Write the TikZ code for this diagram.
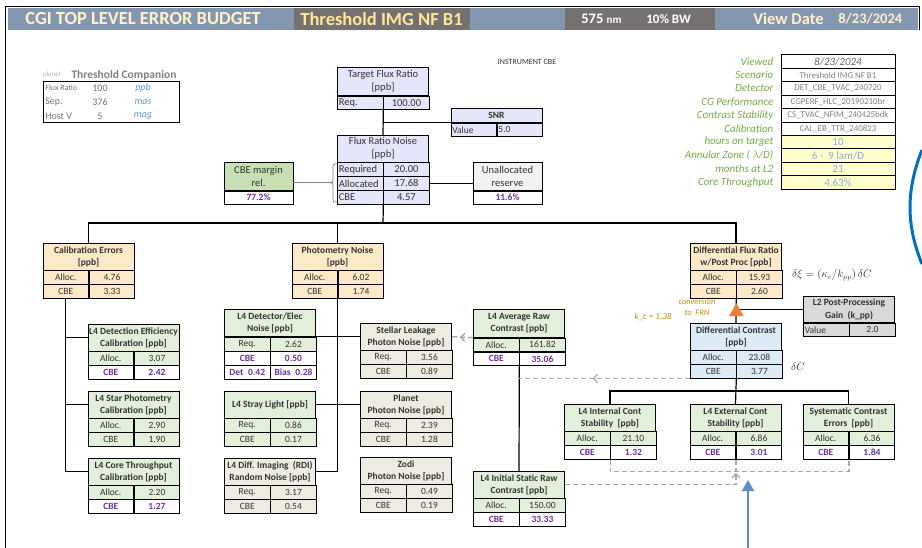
\documentclass[tikz,border=0pt]{standalone}
\usepackage{fontspec}
\setmainfont{Carlito}
\usetikzlibrary{arrows.meta,positioning,shapes.geometric,decorations.markings}

\definecolor{hdblue}{HTML}{8497B0}
\definecolor{hdgray}{HTML}{767171}
\definecolor{hdtxt}{HTML}{FFF2CC}
\definecolor{hdyel}{HTML}{FFE699}
\definecolor{lav}{HTML}{E6E6FA}
\definecolor{mgreen}{HTML}{C6E0B4}
\definecolor{lgray}{HTML}{F2F2F2}
\definecolor{peach}{HTML}{FCE9C7}
\definecolor{lgreen}{HTML}{E2EFDA}
\definecolor{tanfill}{HTML}{EEECE1}
\definecolor{lblue}{HTML}{DDEBF7}
\definecolor{mgray}{HTML}{D9D9D9}
\definecolor{lyel}{HTML}{FFFFCC}
\definecolor{gtxt}{HTML}{70AD47}
\definecolor{btxt}{HTML}{8EA9DB}
\definecolor{utxt}{HTML}{5B9BD5}
\definecolor{gold}{HTML}{BF9000}
\definecolor{orng}{HTML}{ED7D31}
\definecolor{barrow}{HTML}{5B8FC9}
\definecolor{arcblue}{HTML}{0070C0}
\definecolor{dgray}{HTML}{A6A6A6}
\definecolor{purp}{HTML}{7030A0}
\definecolor{txt}{HTML}{333333}

% one row of a budget box: [left cell extra]{node above}{name}{style}{left}{right}
\newcommand{\brow}[6][]{%
  \node[cell=#4, anchor=north west, #1] (#3l) at (#2.south west) {#5};
  \node[cell=#4, anchor=north west] (#3r) at (#3l.north east) {#6};}

\begin{document}
\begin{tikzpicture}[x=1pt, y=-1pt, line width=0.7pt,
  every node/.style={text=txt, font=\fontsize{9.5}{12}\selectfont},
  hd/.style={draw, fill=#1, minimum width=91pt, minimum height=26.6pt, inner sep=0pt,
    align=center, anchor=north, font=\fontsize{9.5}{12.3}\selectfont\bfseries},
  hd/.default=white,
  cell/.style={draw, fill=#1, minimum width=45.5pt, minimum height=13.4pt, inner sep=0pt},
  cell/.default=white,
  big/.style={font=\fontsize{10.5}{13}\selectfont},
  lft/.style={text width=43pt, inner xsep=1.25pt, align=left},
  pv/.style={text=purp, font=\fontsize{9.5}{11}\selectfont\bfseries},
  wire/.style={line width=1.2pt},
  dashline/.style={dgray, line width=1.3pt, dash pattern=on 5pt off 3pt},
  midarrow/.style={postaction={decorate}, decoration={markings,
    mark=at position #1 with {\arrow{Straight Barb[length=4pt, width=8pt]}}}},
  rowlab/.style={anchor=east, text=gtxt, font=\fontsize{11}{12}\selectfont\itshape},
  rowval/.style={draw, minimum width=114pt, minimum height=13.4pt, inner sep=0pt}]
  \useasboundingbox (0,0) rectangle (922,548);

  % header bar
  \fill[hdblue] (8,8) rectangle (918,30);
  \fill[hdgray] (294,8) rectangle (470,30);
  \fill[hdgray] (565,8) rectangle (715,30);
  \draw[line width=1pt] (5,548) -- (5,7) -- (919,7) -- (919,30);
  \node[anchor=west, inner xsep=0pt, text=hdtxt, font=\fontsize{18.5}{20}\selectfont\bfseries] (ttl) at (25,19) {CGI TOP LEVEL ERROR BUDGET};
  \node[anchor=west, inner xsep=0pt, text=hdyel, font=\fontsize{18.5}{20}\selectfont\bfseries] (scen) at (300,19) {Threshold IMG NF B1};
  \node[anchor=west, inner xsep=0pt, text=white, font=\fontsize{14.5}{16}\selectfont\bfseries] (wl) at (581,19) {575 {\fontsize{11}{12}\selectfont nm}};
  \node[anchor=west, inner xsep=0pt, text=white, font=\fontsize{13}{14}\selectfont\bfseries] (bw) at (646,19) {10\% BW};
  \node[anchor=west, inner xsep=0pt, text=hdtxt, font=\fontsize{16.5}{18}\selectfont\bfseries] (vd) at (753,19) {View Date};
  \node[anchor=west, inner xsep=0pt, text=hdtxt, font=\fontsize{14.5}{16}\selectfont\bfseries] (vdd) at (838,19) {8/23/2024};

  \node[font=\fontsize{8}{9}\selectfont] (inst) at (527,62) {INSTRUMENT CBE};

  % planet table
  \node[text=gray!60, font=\fontsize{7}{8}\selectfont\itshape] (plnt) at (52,75) {planet};
  \node[text=gray, font=\fontsize{11.5}{13}\selectfont\bfseries] (pcomp) at (124,75) {Threshold Companion};
  \node[draw, line width=0.9pt, minimum width=136pt, minimum height=41pt, inner sep=0pt] (ptab) at (111,101.5) {};
  \foreach \n/\v/\u/\yy [count=\i] in {{\fontsize{8}{9}\selectfont Flux Ratio}/100/ppb/88, Sep./376/mas/102, Host V/5/mag/116}{
    \node[anchor=west, inner xsep=0pt, text=gray!90!black, font=\fontsize{10}{11}\selectfont] (pl\i) at (45,\yy) {\n};
    \node[text=gray!90!black, font=\fontsize{10}{11}\selectfont] (pn\i) at (100,\yy) {\v};
    \node[text=utxt, font=\fontsize{10}{11}\selectfont\itshape] (pu\i) at (143,\yy) {\u};
  }

  % scenario table
  \node[rowval, line width=1pt, font=\fontsize{11}{12}\selectfont\itshape, text=gray!80!black] (rv1) at (838,61.7) {8/23/2024};
  \node[rowlab] (rl1) at (777,61.7) {Viewed};
  \foreach \lab/\val [count=\i from 2] in {Scenario/{Threshold IMG NF B1}, {Detector\ }/{DET\_CBE\_TVAC\_240720},
      CG Performance/{CGPERF\_HLC\_20190210br}, {Contrast Stability\ }/{CS\_TVAC\_NFIM\_240425bdk},
      Calibration/{CAL\_EB\_TTR\_240823}}{
    \node[rowval, text=gray, font=\fontsize{8.9}{10}\selectfont] (rv\i) at (838,48.3+13.4*\i) {\val};
    \node[rowlab] (rl\i) at (777,48.3+13.4*\i) {\lab};
  }
  \foreach \lab/\val [count=\i from 7] in {hours on target/10, {Annular Zone ( $\lambda$/D)}/{6 -\ \ 9 lam/D},
      months at L2/21, Core Throughput/{4.63\%}}{
    \node[rowval, fill=lyel, text=btxt, font=\fontsize{11}{12}\selectfont] (rv\i) at (838,48.3+13.4*\i) {\val};
    \node[rowlab] (rl\i) at (777,48.3+13.4*\i) {\lab};
  }

  % top level
  \node[hd=lav, big, minimum height=28pt] (tfr) at (383,67) {Target Flux Ratio\\{[ppb]}};
  \brow[lft]{tfr}{tfr-1}{lav,big}{Req.}{100.00}
  \node[hd=lav, minimum height=14pt] (snr) at (496.5,108) {SNR};
  \brow[lft]{snr}{snr-1}{lav,lft}{Value}{5.0}
  \node[hd=lav, big] (frn) at (383,135) {Flux Ratio Noise\\{[ppb]}};
  \brow[lft]{frn}{frn-1}{lav,big}{Required}{20.00}
  \brow[lft]{frn-1l}{frn-2}{lav,big}{Allocated}{17.68}
  \brow[lft]{frn-2l}{frn-3}{lav,big}{CBE}{4.57}
  \node[hd=mgreen, big, minimum width=69pt, minimum height=28pt] (cbem) at (258.5,162) {CBE margin\\rel.};
  \node[cell, pv, minimum width=69pt, anchor=north] (cbem-v) at (cbem.south) {77.2\%};
  \node[hd=lgray, big, minimum width=69pt, minimum height=28pt] (unres) at (507.5,162) {Unallocated\\reserve};
  \node[cell, pv, minimum width=69pt, anchor=north] (unres-v) at (unres.south) {11.6\%};

  % second level
  \node[hd=peach] (cal) at (88.5,243) {Calibration Errors\\{[ppb]}};
  \brow{cal}{cal-1}{peach}{Alloc.}{4.76}
  \brow{cal-1l}{cal-2}{peach}{CBE}{3.33}
  \node[hd=peach] (phot) at (337.5,243) {Photometry Noise\\{[ppb]}};
  \brow{phot}{phot-1}{peach}{Alloc.}{6.02}
  \brow{phot-1l}{phot-2}{peach}{CBE}{1.74}
  \node[hd=peach] (dfr) at (736,243) {Differential Flux Ratio\\w/Post Proc [ppb]};
  \brow{dfr}{dfr-1}{peach}{Alloc.}{15.93}
  \brow{dfr-1l}{dfr-2}{peach}{CBE}{2.60}

  % calibration branch
  \node[hd=lgreen] (det) at (133.5,324) {L4 Detection Efficiency\\Calibration [ppb]};
  \brow{det}{det-1}{lgreen}{Alloc.}{3.07}
  \brow{det-1l}{det-2}{white,pv}{CBE}{2.42}
  \node[hd=lgreen] (star) at (133.5,391) {L4 Star Photometry\\Calibration [ppb]};
  \brow{star}{star-1}{lgreen}{Alloc.}{2.90}
  \brow{star-1l}{star-2}{lgreen}{CBE}{1.90}
  \node[hd=lgreen] (core) at (133.5,458) {L4 Core Throughput\\Calibration [ppb]};
  \brow{core}{core-1}{lgreen}{Alloc.}{2.20}
  \brow{core-1l}{core-2}{white,pv}{CBE}{1.27}

  % photometry branch
  \node[hd=lgreen, minimum height=27.5pt] (dete) at (270,309) {L4 Detector/Elec\\Noise [ppb]};
  \brow{dete}{dete-1}{lgreen}{Req.}{2.62}
  \brow{dete-1l}{dete-2}{white,pv}{CBE}{0.50}
  \brow{dete-2l}{dete-3}{white,pv}{Det\enspace 0.42}{Bias\enspace 0.28}
  \node[hd=lgreen] (stray) at (270,391) {L4 Stray Light [ppb]};
  \brow{stray}{stray-1}{lgreen}{Req.}{0.86}
  \brow{stray-1l}{stray-2}{lgreen}{CBE}{0.17}
  \node[hd=tanfill] (rdi) at (270,458) {L4 Diff. Imaging\ \ (RDI)\\Random Noise [ppb]};
  \brow{rdi}{rdi-1}{tanfill}{Req.}{3.17}
  \brow{rdi-1l}{rdi-2}{tanfill}{CBE}{0.54}
  \node[hd=tanfill] (leak) at (406,323) {Stellar Leakage\\Photon Noise [ppb]};
  \brow{leak}{leak-1}{tanfill}{Req.}{3.56}
  \brow{leak-1l}{leak-2}{tanfill}{CBE}{0.89}
  \node[hd=tanfill] (plan) at (406,391) {Planet\\Photon Noise [ppb]};
  \brow{plan}{plan-1}{tanfill}{Req.}{2.39}
  \brow{plan-1l}{plan-2}{tanfill}{CBE}{1.28}
  \node[hd=tanfill] (zodi) at (406,457) {Zodi\\Photon Noise [ppb]};
  \brow{zodi}{zodi-1}{tanfill}{Req.}{0.49}
  \brow{zodi-1l}{zodi-2}{tanfill}{CBE}{0.19}

  % contrast branch
  \node[hd=lgreen, minimum height=28pt] (avg) at (519,309) {L4 Average Raw\\Contrast [ppb]};
  \brow{avg}{avg-1}{lgreen}{Alloc.}{161.82}
  \brow{avg-1l}{avg-2}{white,pv}{CBE}{35.06}
  \node[hd=lgreen] (init) at (519,471) {L4 Initial Static Raw\\Contrast [ppb]};
  \brow{init}{init-1}{lgreen}{Alloc.}{150.00}
  \brow{init-1l}{init-2}{white,pv}{CBE}{33.33}
  \node[hd=mgray, minimum height=26pt] (l2) at (849,296) {L2 Post-Processing\\Gain\ \ (k\_pp)};
  \brow[lft]{l2}{l2-1}{mgray}{Value}{2.0}
  \node[hd=lblue] (dc) at (736,323) {Differential Contrast\\{[ppb]}};
  \brow{dc}{dc-1}{lblue}{Alloc.}{23.08}
  \brow{dc-1l}{dc-2}{lblue}{CBE}{3.77}
  \node[hd=lgreen] (ics) at (610,404) {L4 Internal Cont\\Stability\ \ [ppb]};
  \brow{ics}{ics-1}{lgreen}{Alloc.}{21.10}
  \brow{ics-1l}{ics-2}{white,pv}{CBE}{1.32}
  \node[hd=lgreen] (ecs) at (735.5,404) {L4 External Cont\\Stability [ppb]};
  \brow{ecs}{ecs-1}{lgreen}{Alloc.}{6.86}
  \brow{ecs-1l}{ecs-2}{white,pv}{CBE}{3.01}
  \node[hd=lgreen] (sce) at (848.5,404) {Systematic Contrast\\Errors\ \ [ppb]};
  \brow{sce}{sce-1}{lgreen}{Alloc.}{6.36}
  \brow{sce-1l}{sce-2}{white,pv}{CBE}{1.84}

  % connectors
  \draw[wire] (tfr-1l.south east) -- (frn.north);
  \draw[wire] (snr.south west) -- (snr.south west -| tfr.south);
  \draw[wire] (frn-2r.east) -- (unres.west |- frn-2r.east);
  \coordinate (brtip) at (330,182.5);
  \draw[gray, line width=0.8pt] (cbem.east |- brtip) -- (brtip);
  \draw[gray, line width=0.8pt] (337,164) .. controls (333,164) .. (333,169) -- (333,179)
    .. controls (333,182) .. (brtip) .. controls (333,183) .. (333,186) -- (333,197)
    .. controls (333,202) .. (337,202);
  \coordinate (bus) at (383,223);
  \draw[wire] (frn-3l.south east) -- (bus);
  \draw[wire] (cal.north) |- (bus) -| (dfr.north);
  \draw[wire] (phot.north) -- (phot.north |- bus);

  \draw[wire] (cal-2l.south) |- (core.west);
  \draw[wire] (det.west) -- (det.west -| cal-2l.south);
  \draw[wire] (star.west) -- (star.west -| cal-2l.south);

  \draw[wire] (phot-2l.south east) |- (rdi.east);
  \draw[wire] (dete.east |- leak.west) -- (leak.west);
  \draw[wire] (stray.east) -- (plan.west);

  \draw[dashline, midarrow=0.62] (avg.south west) -- (leak.east);
  \draw[wire] (avg-2l.south east) -- (init.north);
  \draw[dashline, midarrow=0.57] (dc-2l.south west) -- (dc-2l.south west -| init.north);

  \draw[wire] (dfr-2l.south east) -- (dc.north);
  \draw[wire] (dfr-2l.south east |- l2.west) -- (l2.west);
  \node[regular polygon, regular polygon sides=3, fill=orng, minimum size=17pt, inner sep=0pt] (conv)
    at ([yshift=-2.5pt]dfr-2l.south east |- l2.west) {};
  \draw[wire] (dc-2l.south east) -- (ecs.north);
  \draw[wire] (ics.north) -- ++(0,-13) -| (sce.north);

  \draw[dashline] (ics-2l.south east) -- ++(0,12) -| (sce-2l.south east);
  \draw[dashline] (ecs-2l.south east) -- ++(0,12) coordinate (sum);
  \draw[dashline, -{Straight Barb[length=4pt, width=8pt]}] (init.east) -| ([yshift=-1.5pt]sum);

  \coordinate (src) at (748,548);
  \coordinate (tip) at (748,480);
  \draw[barrow, line width=2pt, -{Triangle[length=11pt, width=12pt]}] (src) -- (tip);
  \draw[arcblue, line width=3pt] (922,150) .. controls (906,190) and (906,225) .. (922,264);

  % annotations
  \node[text=gold, font=\fontsize{8.5}{11}\selectfont\itshape, align=center] (convlab) at (697,307.5) {conversion\\to\ \ FRN};
  \node[text=gold, font=\fontsize{9}{10}\selectfont\itshape] (kc) at (653,317) {k\_c = 1.38};
  \node[font=\fontsize{10.5}{12}\selectfont] (dxi) at (832,275) {$\delta\xi = (\kappa_c/k_{pp})\,\delta C$};
  \node[font=\fontsize{10.5}{12}\selectfont] (dcl) at (798,367) {$\delta C$};
\end{tikzpicture}
\end{document}
